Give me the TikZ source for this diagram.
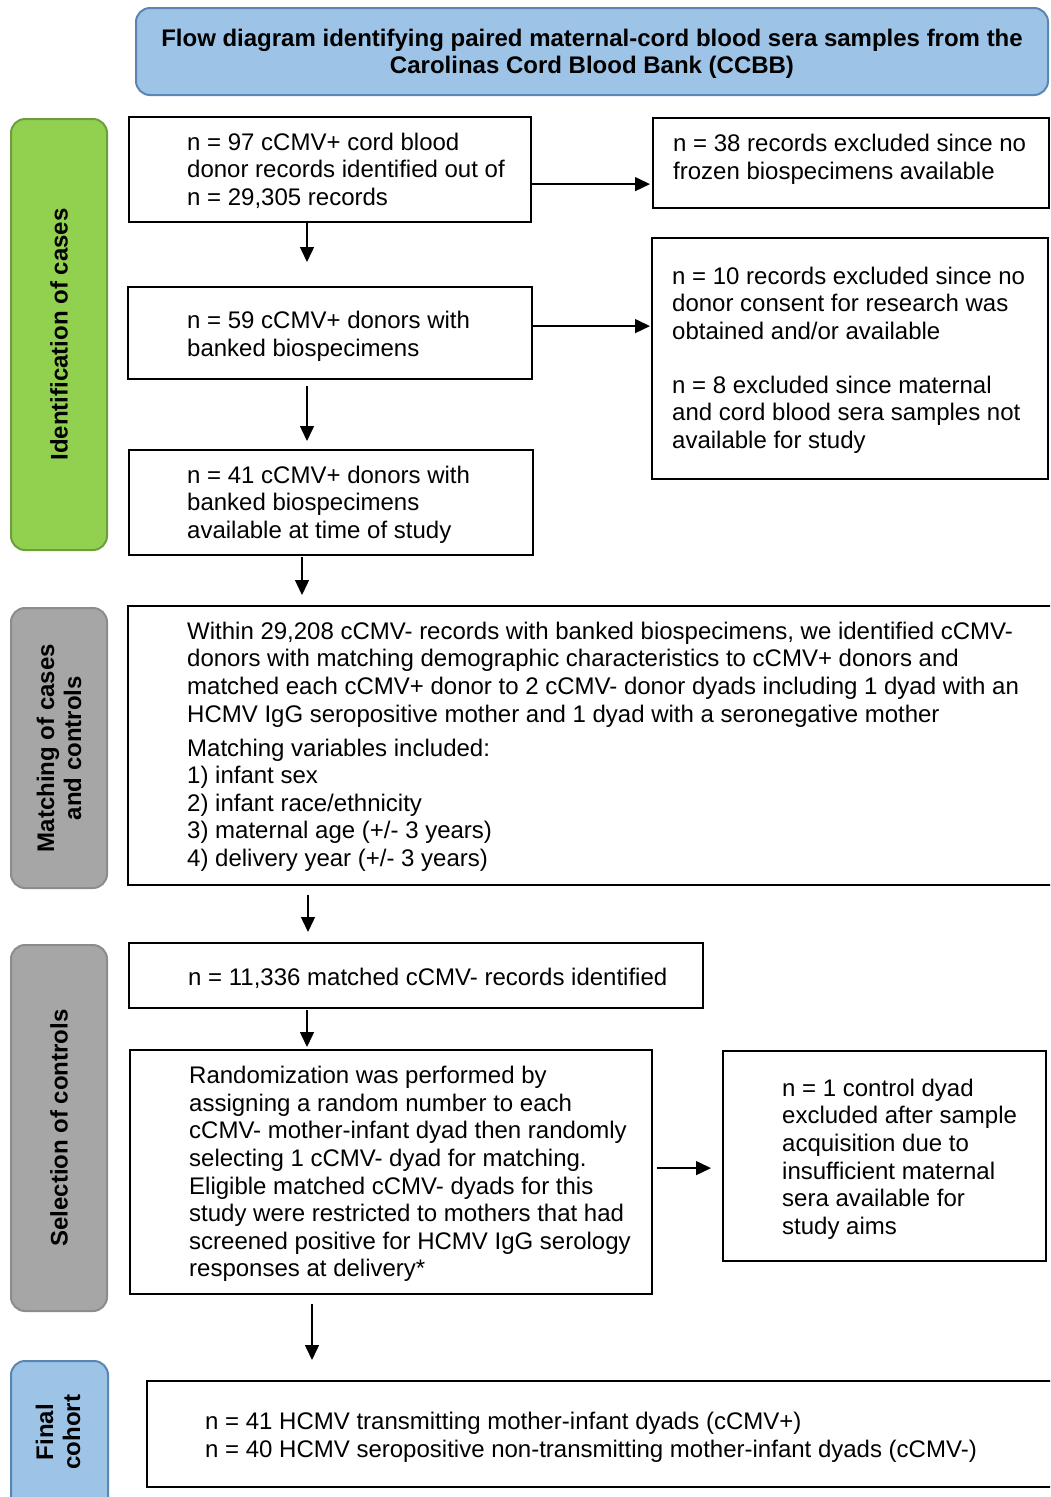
\documentclass[tikz,border=0pt]{standalone}
\usepackage{fontspec}
\setmainfont{Liberation Sans}
\usetikzlibrary{arrows.meta}
\definecolor{titlefill}{HTML}{9DC3E6}
\definecolor{titledraw}{HTML}{5A86B4}
\definecolor{greenfill}{HTML}{92D050}
\definecolor{greendraw}{HTML}{6E9E3C}
\definecolor{grayfill}{HTML}{A6A6A6}
\definecolor{graydraw}{HTML}{8C8C8C}
\tikzset{
  box/.style={draw=black, line width=2.2pt, fill=white, inner sep=0pt, anchor=north west},
  txt/.style={inner sep=0pt, anchor=west, align=left, font=\fontsize{24}{27.6}\selectfont},
  lab/.style={line width=2pt, rounded corners=14pt, inner sep=0pt, anchor=north west},
  labtxt/.style={inner sep=0pt, rotate=90, align=center, font=\fontsize{24}{27}\selectfont\bfseries},
  arr/.style={line width=1.4pt, -{Triangle[length=15pt,width=14pt]}}
}
\begin{document}
\begin{tikzpicture}[x=1pt,y=-1pt]
\useasboundingbox (0,0) rectangle (1050,1497);
\fill[white] (0,0) rectangle (1050,1497);
\clip (0,0) rectangle (1050,1497);

% title
\node[lab, draw=titledraw, fill=titlefill, minimum width=912pt, minimum height=87pt] (title) at (135,7) {};
\node[inner sep=0pt, align=center, font=\fontsize{24}{27}\selectfont\bfseries] (titletxt) at ([yshift=-2pt]title.center)
  {Flow diagram identifying paired maternal-cord blood sera samples from the\\Carolinas Cord Blood Bank (CCBB)};

% side labels
\node[lab, draw=greendraw, fill=greenfill, minimum width=96pt, minimum height=431pt] (l1) at (10,118) {};
\node[labtxt] (l1t) at (l1.center) {Identification of cases};
\node[lab, draw=graydraw, fill=grayfill, minimum width=96pt, minimum height=280pt] (l2) at (10,607) {};
\node[labtxt] (l2t) at (l2.center) {Matching of cases\\and controls};
\node[lab, draw=graydraw, fill=grayfill, minimum width=96pt, minimum height=366pt] (l3) at (10,944) {};
\node[labtxt] (l3t) at (l3.center) {Selection of controls};
\node[lab, draw=titledraw, fill=titlefill, minimum width=97pt, minimum height=180pt] (l4) at (10,1360) {};
\node[labtxt] (l4t) at (58,1432) {Final\\cohort};

% boxes
\node[box, minimum width=402pt, minimum height=105pt] (b1) at (128,116) {};
\node[txt] (b1t) at ([xshift=59pt,yshift=-1pt]b1.west) {n = 97 cCMV+ cord blood\\donor records identified out of\\n = 29,305 records};

\node[box, minimum width=396pt, minimum height=90pt] (e1) at (652,117) {};
\node[txt] (e1t) at ([xshift=21pt,yshift=4pt]e1.west) {n = 38 records excluded since no\\frozen biospecimens available};

\node[box, minimum width=404pt, minimum height=92pt] (b2) at (127,286) {};
\node[txt] (b2t) at ([xshift=60pt,yshift=-3pt]b2.west) {n = 59 cCMV+ donors with\\banked biospecimens};

\node[box, minimum width=396pt, minimum height=241pt] (e2) at (651,237) {};
\node[txt] (e2t) at ([xshift=21pt,yshift=-1.5pt]e2.west) {n = 10 records excluded since no\\donor consent for research was\\obtained and/or available\\[26.4pt]n = 8 excluded since maternal\\and cord blood sera samples not\\available for study};

\node[box, minimum width=404pt, minimum height=105pt] (b3) at (128,449) {};
\node[txt] (b3t) at ([xshift=59pt,yshift=-2pt]b3.west) {n = 41 cCMV+ donors with\\banked biospecimens\\available at time of study};

\node[box, minimum width=940pt, minimum height=279pt] (b4) at (127,605) {};
\node[txt] (b4t) at ([xshift=60pt,yshift=-1pt]b4.west) {Within 29,208 cCMV- records with banked biospecimens, we identified cCMV-\\donors with matching demographic characteristics to cCMV+ donors and\\matched each cCMV+ donor to 2 cCMV- donor dyads including 1 dyad with an\\HCMV IgG seropositive mother and 1 dyad with a seronegative mother\\[6.4pt]Matching variables included:\\1) infant sex\\2) infant race/ethnicity\\3) maternal age (+/- 3 years)\\4) delivery year (+/- 3 years)};

\node[box, minimum width=574pt, minimum height=65pt] (b5) at (128,942) {};
\node[txt] (b5t) at ([xshift=60pt,yshift=-3pt]b5.west) {n = 11,336 matched cCMV- records identified};

\node[box, minimum width=522pt, minimum height=244pt] (b6) at (129,1049) {};
\node[txt] (b6t) at ([xshift=60pt,yshift=-2pt]b6.west) {Randomization was performed by\\assigning a random number to each\\cCMV- mother-infant dyad then randomly\\selecting 1 cCMV- dyad for matching.\\Eligible matched cCMV- dyads for this\\study were restricted to mothers that had\\screened positive for HCMV IgG serology\\responses at delivery*};

\node[box, minimum width=323pt, minimum height=210pt] (e3) at (722,1050) {};
\node[txt] (e3t) at ([xshift=60pt,yshift=-3pt]e3.west) {n = 1 control dyad\\excluded after sample\\acquisition due to\\insufficient maternal\\sera available for\\study aims};

\node[box, minimum width=920pt, minimum height=106pt] (b7) at (146,1380) {};
\node[txt] (b7t) at ([xshift=59pt,yshift=-3pt]b7.west) {n = 41 HCMV transmitting mother-infant dyads (cCMV+)\\n = 40 HCMV seropositive non-transmitting mother-infant dyads (cCMV-)};

% connectors
\draw[arr, shorten >=2pt] ([yshift=-14.5pt]b1.east) -- ([yshift=-14.5pt]b1.east -| e1.west);
\draw[arr, shorten >=24pt] ([xshift=179pt]b1.south west) -- ([xshift=180pt]b2.north west);
\draw[arr, shorten >=1pt] ([yshift=7pt]b2.east) -- ([yshift=7pt]b2.east -| e2.west);
\draw[arr, shorten <=6pt, shorten >=8pt] ([xshift=180pt]b2.south west) -- ([xshift=179pt]b3.north west);
\draw[arr, shorten <=1pt, shorten >=10pt] ([xshift=174pt]b3.south west) -- ([xshift=175pt]b4.north west);
\draw[arr, shorten <=9pt, shorten >=10pt] ([xshift=181pt]b4.south west) -- ([xshift=180pt]b5.north west);
\draw[arr, shorten <=1pt, shorten >=2pt] ([xshift=179pt]b5.south west) -- ([xshift=178pt]b6.north west);
\draw[arr, shorten <=4pt, shorten >=11pt] ([yshift=4pt]b6.east) -- ([yshift=4pt]b6.east -| e3.west);
\draw[arr, shorten <=9pt, shorten >=20pt] ([xshift=183pt]b6.south west) -- ([xshift=166pt]b7.north west);
\end{tikzpicture}
\end{document}
